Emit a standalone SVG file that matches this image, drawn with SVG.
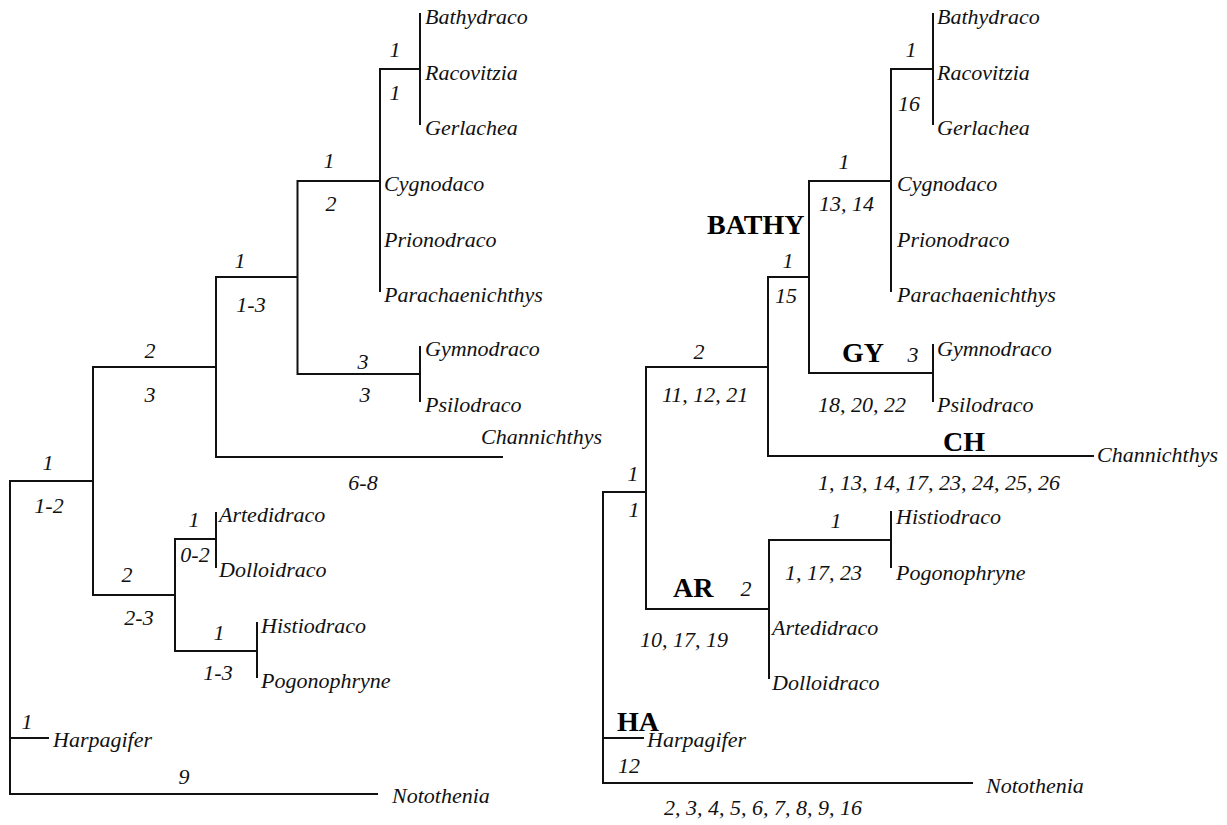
<svg xmlns="http://www.w3.org/2000/svg" width="1227" height="825" viewBox="0 0 1227 825">
<style>
.bg{fill:#fff}
.ln{fill:none;stroke:#111;stroke-width:2;stroke-linecap:square}
.tx{font-family:"Liberation Serif","Times New Roman",serif;font-style:italic;font-size:22px;fill:#111}
.n{font-family:"Liberation Serif","Times New Roman",serif;font-style:italic;font-size:22px;fill:#111}
.m{text-anchor:middle}
.cl{font-family:"Liberation Serif","Times New Roman",serif;font-weight:bold;font-size:28px;fill:#000}
</style>
<rect class="bg" x="0" y="0" width="1227" height="825"/>

<g id="connectors">
  <g id="left-tree-branches">
    <path class="ln" d="M420 14V124M380 69H420M380 69V291M297.5 181H380M297.5 181V374H420M420 347V401M216 277H297.5M216 277V457H502M93 367H216M93 367V595H175M175 539V651M175 539H216M216 513V567M175 651H257M257 623V677M10 481H93M10 481V794H377M10 738H48"/>
  </g>
  <g id="right-tree-branches">
    <path class="ln" d="M933 14V124M891 69H933M891 69V291M809 181H891M809 181V373H933M933 345V401M768 277H809M768 277V456H1093M646 367H768M646 367V609H769M603 492H646M769 540V678M769 540H891M891 512V567M603 492V783H972M603 738H643"/>
  </g>
</g>

<g id="left-tree">
  <g id="L-Bathydraco"><text class="tx" x="425" y="24">Bathydraco</text></g>
  <g id="L-Racovitzia"><text class="tx" x="425" y="80">Racovitzia</text></g>
  <g id="L-Gerlachea"><text class="tx" x="425" y="135">Gerlachea</text></g>
  <g id="L-Cygnodaco"><text class="tx" x="384" y="191">Cygnodaco</text></g>
  <g id="L-Prionodraco"><text class="tx" x="384" y="247">Prionodraco</text></g>
  <g id="L-Parachaenichthys"><text class="tx" x="384" y="302">Parachaenichthys</text></g>
  <g id="L-Gymnodraco"><text class="tx" x="425" y="356">Gymnodraco</text></g>
  <g id="L-Psilodraco"><text class="tx" x="425" y="412">Psilodraco</text></g>
  <g id="L-Channichthys"><text class="tx" x="481" y="444">Channichthys</text></g>
  <g id="L-Artedidraco"><text class="tx" x="219" y="522">Artedidraco</text></g>
  <g id="L-Dolloidraco"><text class="tx" x="219" y="577">Dolloidraco</text></g>
  <g id="L-Histiodraco"><text class="tx" x="261" y="633">Histiodraco</text></g>
  <g id="L-Pogonophryne"><text class="tx" x="261" y="688">Pogonophryne</text></g>
  <g id="L-Harpagifer"><text class="tx" x="53" y="747">Harpagifer</text></g>
  <g id="L-Notothenia"><text class="tx" x="392" y="803">Notothenia</text></g>
  <g id="L-labels">
    <text class="n m" x="395" y="57">1</text>
    <text class="n m" x="395" y="100">1</text>
    <text class="n m" x="329" y="168">1</text>
    <text class="n m" x="331" y="211">2</text>
    <text class="n m" x="240" y="268">1</text>
    <text class="n m" x="251" y="312">1-3</text>
    <text class="n m" x="363" y="369">3</text>
    <text class="n m" x="365" y="402">3</text>
    <text class="n m" x="150" y="358">2</text>
    <text class="n m" x="150" y="402">3</text>
    <text class="n m" x="363" y="490">6-8</text>
    <text class="n m" x="48" y="470">1</text>
    <text class="n m" x="49" y="513">1-2</text>
    <text class="n m" x="127" y="582">2</text>
    <text class="n m" x="139" y="625">2-3</text>
    <text class="n m" x="194" y="527">1</text>
    <text class="n m" x="195" y="562">0-2</text>
    <text class="n m" x="219" y="640">1</text>
    <text class="n m" x="218" y="680">1-3</text>
    <text class="n m" x="27" y="729">1</text>
    <text class="n m" x="184" y="784">9</text>
  </g>
</g>

<g id="right-tree">
  <g id="R-Bathydraco"><text class="tx" x="937" y="24">Bathydraco</text></g>
  <g id="R-Racovitzia"><text class="tx" x="937" y="80">Racovitzia</text></g>
  <g id="R-Gerlachea"><text class="tx" x="937" y="135">Gerlachea</text></g>
  <g id="R-Cygnodaco"><text class="tx" x="897" y="191">Cygnodaco</text></g>
  <g id="R-Prionodraco"><text class="tx" x="897" y="247">Prionodraco</text></g>
  <g id="R-Parachaenichthys"><text class="tx" x="897" y="302">Parachaenichthys</text></g>
  <g id="R-Gymnodraco"><text class="tx" x="937" y="356">Gymnodraco</text></g>
  <g id="R-Psilodraco"><text class="tx" x="937" y="412">Psilodraco</text></g>
  <g id="R-Channichthys"><text class="tx" x="1097" y="462">Channichthys</text></g>
  <g id="R-Histiodraco"><text class="tx" x="896" y="524">Histiodraco</text></g>
  <g id="R-Pogonophryne"><text class="tx" x="896" y="580">Pogonophryne</text></g>
  <g id="R-Artedidraco"><text class="tx" x="772" y="635">Artedidraco</text></g>
  <g id="R-Dolloidraco"><text class="tx" x="772" y="690">Dolloidraco</text></g>
  <g id="R-Harpagifer"><text class="tx" x="647" y="747">Harpagifer</text></g>
  <g id="R-Notothenia"><text class="tx" x="986" y="793">Notothenia</text></g>
  <g id="R-clades">
    <text class="cl" x="707" y="234">BATHY</text>
    <text class="cl" x="842" y="362">GY</text>
    <text class="cl" x="943" y="451">CH</text>
    <text class="cl" x="673" y="597">AR</text>
    <text class="cl" x="617" y="731">HA</text>
  </g>
  <g id="R-labels">
    <text class="n m" x="911" y="57">1</text>
    <text class="n m" x="909" y="111">16</text>
    <text class="n m" x="844" y="169">1</text>
    <text class="n" x="819" y="211">13, 14</text>
    <text class="n m" x="788" y="268">1</text>
    <text class="n" x="775" y="303">15</text>
    <text class="n m" x="913" y="362">3</text>
    <text class="n" x="818" y="412">18, 20, 22</text>
    <text class="n m" x="699" y="359">2</text>
    <text class="n" x="662" y="402">11, 12, 21</text>
    <text class="n" x="818" y="490">1, 13, 14, 17, 23, 24, 25, 26</text>
    <text class="n m" x="633" y="481">1</text>
    <text class="n m" x="634" y="517">1</text>
    <text class="n m" x="746" y="596">2</text>
    <text class="n" x="640" y="647">10, 17, 19</text>
    <text class="n m" x="836" y="528">1</text>
    <text class="n" x="785" y="580">1, 17, 23</text>
    <text class="n" x="618" y="773">12</text>
    <text class="n" x="664" y="815">2, 3, 4, 5, 6, 7, 8, 9, 16</text>
  </g>
</g>
</svg>
